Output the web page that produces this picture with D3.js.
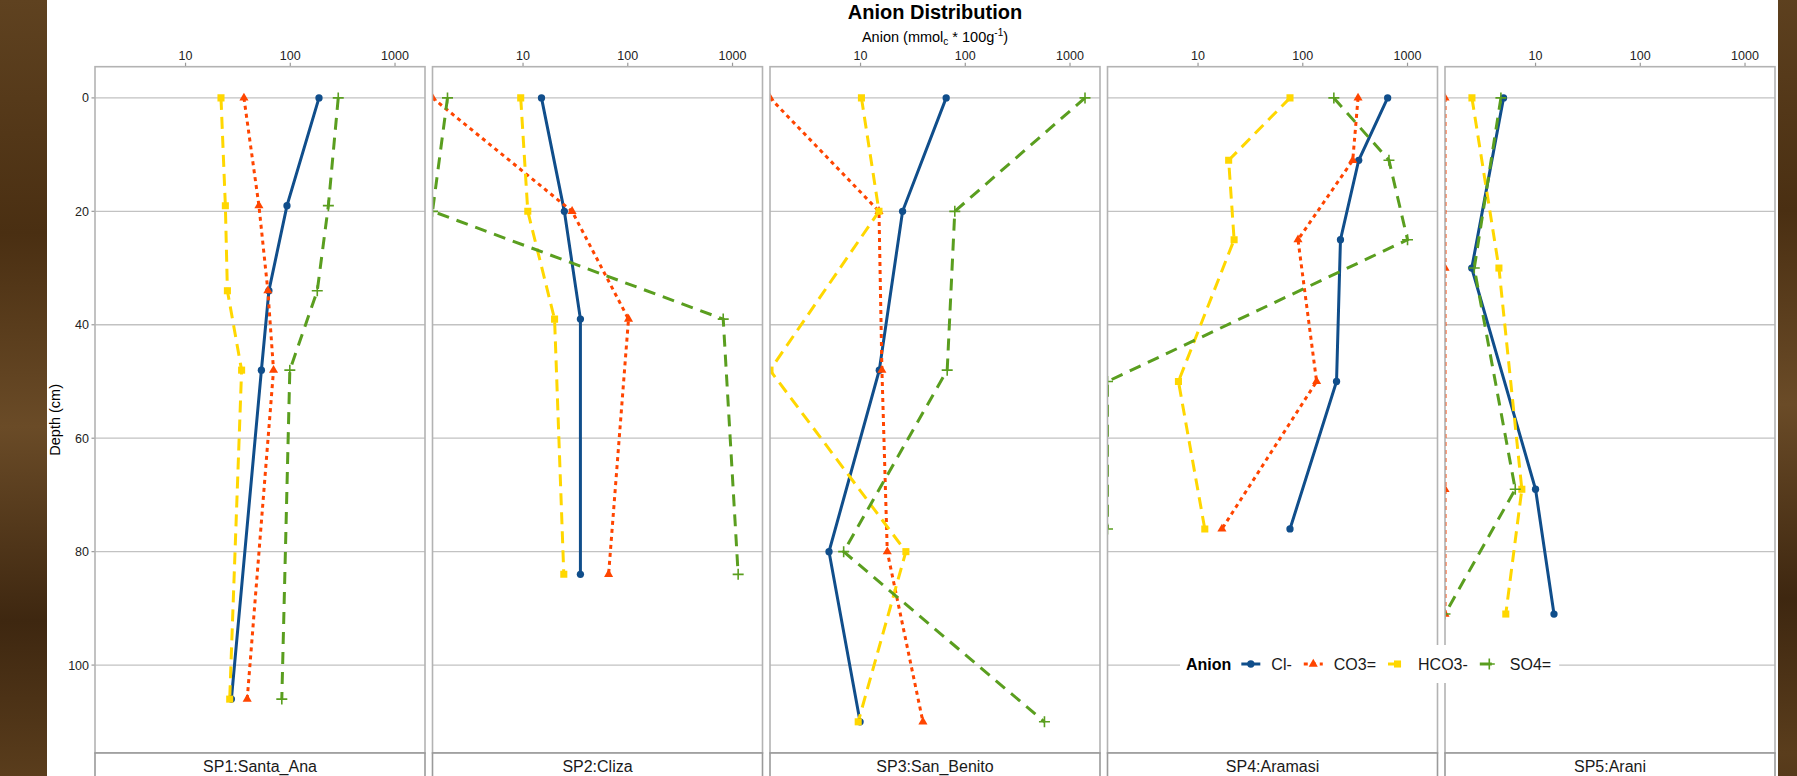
<!DOCTYPE html>
<html>
<head>
<meta charset="utf-8">
<script src="https://cdn.jsdelivr.net/npm/d3@7"></script>
<style>
  html, body { margin: 0; padding: 0; background: #4e3416; overflow: hidden; }
  svg { display: block; }
  text { font-family: "Liberation Sans", Arial, sans-serif; }
</style>
</head>
<body>
<div class="canvas"></div>
<script>
// facets and series
const sites = ["SP1:Santa_Ana", "SP2:Cliza", "SP3:San_Benito", "SP4:Aramasi", "SP5:Arani"];
const anions = ["Cl-", "CO3=", "HCO3-", "SO4="];

// sample depth (cm) per site
const depths = [
  [0, 19, 34, 48, 106],
  [0, 20, 39, 84],
  [0, 20, 48, 80, 110],
  [0, 11, 25, 50, 76],
  [0, 30, 69, 91]
];

// anion values (mmolc / 100g), 0 = not detected -> drawn on the panel edge
const cl = [
  [188, 93, 62.5, 53, 27.4],
  [15, 24.8, 35.3, 35.3],
  [65.7, 25.2, 15.1, 5.0, 9.9],
  [646, 342, 229, 210, 75.5],
  [4.95, 2.46, 10, 15]
];
const co3 = [
  [36.1, 50.2, 61.1, 69.2, 38.8],
  [0, 29.4, 101.6, 65.6],
  [0, 15.0, 16.0, 18.0, 39.4],
  [337, 300, 90, 135.5, 16.9],
  [0, 0, 0, 0]
];
const hco3 = [
  [21.8, 24.0, 25.1, 34.3, 26.4],
  [9.5, 11.1, 20, 24.5],
  [10.2, 15.0, 0, 27.1, 9.5],
  [75.5, 19.6, 22.1, 6.5, 11.6],
  [2.47, 4.47, 7.4, 5.2]
];
const so4 = [
  [287, 231, 181, 99, 83],
  [1.9, 0, 815, 1132],
  [1390, 79.4, 67.2, 6.9, 570],
  [198, 665, 1000, 0, 0],
  [4.67, 2.6, 6.4, 0]
];

const xTicks = [10, 100, 1000];
const yTicks = [0, 20, 40, 60, 80, 100];

const colors = ["#104e8b", "#ff4500", "#ffd700", "#5a9e1f"];
const dashes = [null, "4,4", "12,7", "12,8"];

const width = 1797;
const height = 776;
const left0 = 95, panelW = 330, gap = 7.5;
const plotTop = 66.7, plotBottom = 753;

const svg = d3.select(".canvas")
  .append("svg")
  .attr("width", width)
  .attr("height", height);

const defs = svg.append("defs");
const wood = defs.append("linearGradient").attr("id", "wood")
  .attr("x1", 0).attr("x2", 0.03).attr("y1", 0).attr("y2", 1).attr("spreadMethod", "reflect");
[["0%", "#5f4220"], ["30%", "#4a2f12"], ["55%", "#6a4b27"], ["80%", "#3e2710"], ["100%", "#5a3d1c"]]
  .forEach(s => wood.append("stop").attr("offset", s[0]).attr("stop-color", s[1]));

svg.append("rect").attr("width", width).attr("height", height).attr("fill", "url(#wood)");
svg.append("rect").attr("x", 47).attr("y", 0).attr("width", 1731).attr("height", height).attr("fill", "#fff");

// scales
const positives = [cl, co3, hco3, so4].flat(2).filter(v => v > 0);
const lx = d3.extent(positives).map(Math.log10);
const padX = (lx[1] - lx[0]) * 0.05;
const x = d3.scaleLog()
  .domain([10 ** (lx[0] - padX), 10 ** (lx[1] + padX)])
  .range([0, panelW]);

const dExt = d3.extent(depths.flat());
const padY = (dExt[1] - dExt[0]) * 0.05;
const y = d3.scaleLinear()
  .domain([dExt[0] - padY, dExt[1] + padY])
  .range([plotTop, plotBottom]);

const xPos = v => v > 0 ? x(v) : x.range()[0];

const plus = "M-5.5,0H5.5M0,-5.5V5.5";
const symbols = [
  d3.symbol(d3.symbolCircle, 42)(),
  d3.symbol(d3.symbolTriangle, 36)(),
  d3.symbol(d3.symbolSquare, 50)(),
  plus
];

const seriesVals = [cl, co3, hco3, so4];

// title & axis title
svg.append("text")
  .attr("x", 935).attr("y", 19)
  .attr("text-anchor", "middle")
  .attr("font-size", 20).attr("font-weight", "bold")
  .attr("fill", "#000")
  .text("Anion Distribution");

const xt = svg.append("text")
  .attr("x", 935).attr("y", 42)
  .attr("text-anchor", "middle")
  .attr("font-size", 14.5).attr("fill", "#000");
xt.append("tspan").text("Anion (mmol");
xt.append("tspan").attr("font-size", 10).attr("dy", 3).text("c");
xt.append("tspan").attr("dy", -3).text(" * 100g");
xt.append("tspan").attr("font-size", 10).attr("dy", -6).text("-1");
xt.append("tspan").attr("dy", 6).text(")");

svg.append("text")
  .attr("transform", `translate(60, ${(plotTop + plotBottom) / 2 + 10}) rotate(-90)`)
  .attr("text-anchor", "middle")
  .attr("font-size", 14.5).attr("fill", "#000")
  .text("Depth (cm)");

// y axis (left of first panel)
const yAxis = svg.append("g").attr("transform", `translate(${left0}, 0)`);
yTicks.forEach(t => {
  yAxis.append("line")
    .attr("x1", -3.5).attr("x2", 0)
    .attr("y1", y(t)).attr("y2", y(t))
    .attr("stroke", "#999").attr("stroke-width", 1.2);
  yAxis.append("text")
    .attr("x", -6).attr("y", y(t) + 4.5)
    .attr("text-anchor", "end")
    .attr("font-size", 12.5).attr("fill", "#222")
    .text(t);
});

sites.forEach((site, i) => {
  const px = left0 + i * (panelW + gap);
  const g = svg.append("g").attr("transform", `translate(${px}, 0)`);

  defs.append("clipPath").attr("id", `clip${i}`)
    .append("rect")
    .attr("x", 0).attr("y", plotTop)
    .attr("width", panelW).attr("height", plotBottom - plotTop);

  // grid
  g.selectAll(".grid")
    .data(yTicks)
    .enter()
    .append("line")
    .attr("x1", 0).attr("x2", panelW)
    .attr("y1", d => y(d)).attr("y2", d => y(d))
    .attr("stroke", "#c2c2c2").attr("stroke-width", 1.3);

  // top axis
  xTicks.forEach(t => {
    g.append("line")
      .attr("x1", x(t)).attr("x2", x(t))
      .attr("y1", plotTop - 4).attr("y2", plotTop)
      .attr("stroke", "#999").attr("stroke-width", 1.2);
    g.append("text")
      .attr("x", x(t)).attr("y", plotTop - 6.5)
      .attr("text-anchor", "middle")
      .attr("font-size", 12.5).attr("fill", "#222")
      .text(t);
  });

  const plot = g.append("g").attr("clip-path", `url(#clip${i})`);

  const series = seriesVals.map((vals, k) =>
    vals[i].map((v, j) => ({ v: v, depth: depths[i][j], k: k })));

  const line = d3.line()
    .x(d => xPos(d.v))
    .y(d => y(d.depth));

  series.forEach((s, k) => {
    plot.append("path")
      .datum(s)
      .attr("d", line)
      .attr("fill", "none")
      .attr("stroke", colors[k])
      .attr("stroke-width", 3)
      .attr("stroke-dasharray", dashes[k]);
  });

  series.forEach((s, k) => {
    plot.selectAll(`.pt${k}`)
      .data(s)
      .enter()
      .append("path")
      .attr("transform", d => `translate(${xPos(d.v)}, ${y(d.depth)})`)
      .attr("d", symbols[k])
      .attr("fill", k === 3 ? "none" : colors[k])
      .attr("stroke", k === 3 ? colors[k] : "none")
      .attr("stroke-width", 1.6);
  });

  // panel border
  g.append("rect")
    .attr("x", 0).attr("y", plotTop)
    .attr("width", panelW).attr("height", plotBottom - plotTop)
    .attr("fill", "none")
    .attr("stroke", "#b3b3b3").attr("stroke-width", 1.6);

  // strip at bottom
  g.append("rect")
    .attr("x", 0).attr("y", plotBottom)
    .attr("width", panelW).attr("height", 40)
    .attr("fill", "#fff")
    .attr("stroke", "#9a9a9a").attr("stroke-width", 1.6);
  g.append("text")
    .attr("x", panelW / 2).attr("y", plotBottom + 19)
    .attr("text-anchor", "middle")
    .attr("font-size", 16).attr("fill", "#1a1a1a")
    .text(site);
});

// legend
const legY = 664;
const leg = svg.append("g");
const legBg = leg.append("rect").attr("fill", "#fff");
let cx = 1186;
const lt = leg.append("text")
  .attr("x", cx).attr("y", legY + 5.7)
  .attr("font-size", 16).attr("font-weight", "bold").attr("fill", "#000")
  .text("Anion");
cx += lt.node().getComputedTextLength() + 10;
anions.forEach((a, k) => {
  leg.append("line")
    .attr("x1", cx).attr("x2", cx + 19)
    .attr("y1", legY).attr("y2", legY)
    .attr("stroke", colors[k]).attr("stroke-width", 3)
    .attr("stroke-dasharray", dashes[k]);
  leg.append("path")
    .attr("transform", `translate(${cx + 9.5}, ${legY})`)
    .attr("d", symbols[k])
    .attr("fill", k === 3 ? "none" : colors[k])
    .attr("stroke", k === 3 ? colors[k] : "none")
    .attr("stroke-width", 1.6);
  cx += 30;
  const tx = leg.append("text")
    .attr("x", cx).attr("y", legY + 5.7)
    .attr("font-size", 16).attr("fill", "#1a1a1a")
    .text(a);
  cx += tx.node().getComputedTextLength() + 12;
});
legBg.attr("x", 1180).attr("y", legY - 19)
  .attr("width", cx - 1180 - 4).attr("height", 38);
</script>
</body>
</html>
